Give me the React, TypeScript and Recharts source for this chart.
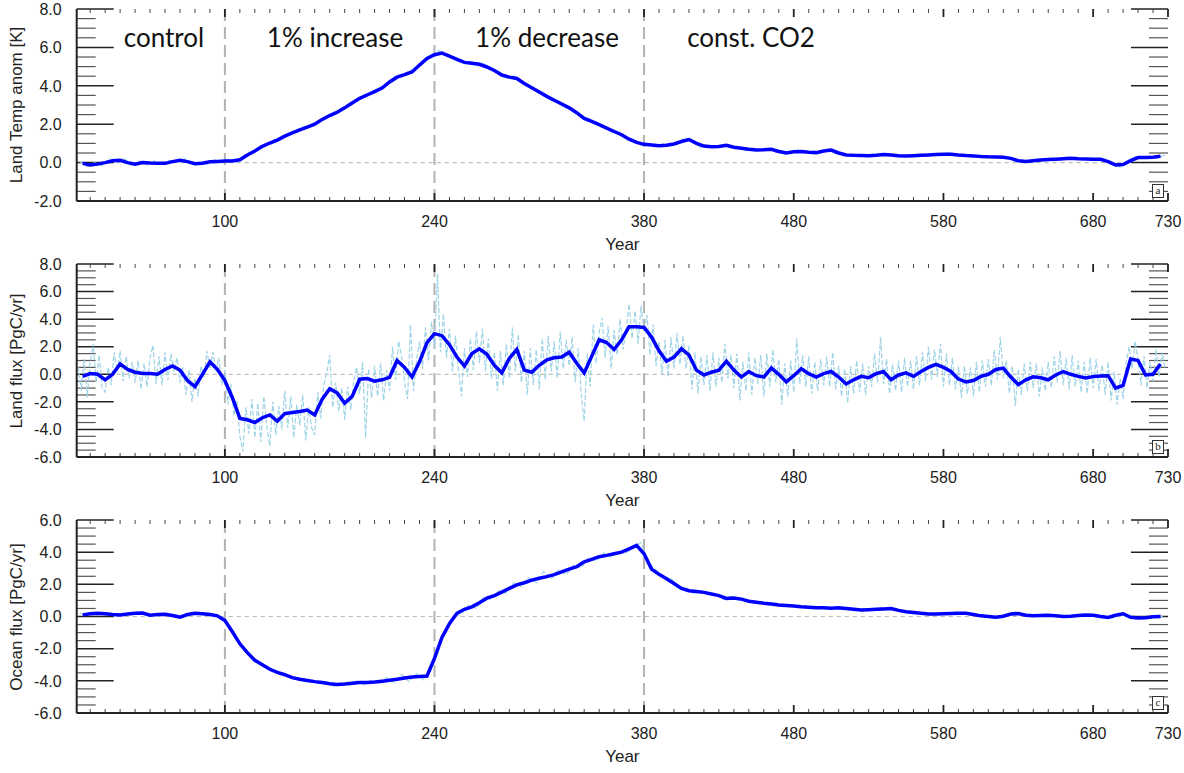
import { LineChart, Line, XAxis, YAxis, ReferenceLine } from 'recharts';

// years on the x axis
const YEAR_DOMAIN: [number, number] = [1, 730];
const MAJOR_YEARS = [100, 240, 380, 480, 580, 680, 730];
const PHASE_YEARS = [100, 240, 380];
const PHASE_LABELS = ['control', '1% increase', '1% decrease', 'const. CO2'];

// smoothed series: years 5, 10, ... 725
const SMOOTH_START = 5;
const SMOOTH_STEP = 5;

const TEMP_SMOOTH = [
    -0.04, -0.12, -0.08, 0.0, 0.1, 0.12, 0.0, -0.09, 0.0, -0.02,
    -0.03, -0.04, 0.05, 0.12, 0.05, -0.06, -0.03, 0.04, 0.06, 0.08,
    0.08, 0.15, 0.4, 0.6, 0.85, 1.02, 1.17, 1.38, 1.55, 1.7,
    1.85, 2.0, 2.25, 2.45, 2.62, 2.85, 3.1, 3.35, 3.52, 3.7,
    3.88, 4.2, 4.45, 4.58, 4.72, 5.08, 5.42, 5.62, 5.7, 5.55,
    5.38, 5.22, 5.17, 5.12, 4.98, 4.8, 4.56, 4.45, 4.38, 4.12,
    3.9, 3.68, 3.45, 3.25, 3.05, 2.85, 2.6, 2.3, 2.15, 1.98,
    1.8, 1.62, 1.45, 1.22, 1.05, 0.95, 0.92, 0.88, 0.9, 0.97,
    1.1, 1.2, 1.0, 0.86, 0.82, 0.84, 0.9, 0.8, 0.75, 0.7,
    0.66, 0.67, 0.69, 0.58, 0.5, 0.56, 0.58, 0.54, 0.52, 0.6,
    0.65, 0.5, 0.4, 0.38, 0.37, 0.36, 0.38, 0.42, 0.4, 0.36,
    0.34, 0.36, 0.38, 0.4, 0.42, 0.44, 0.44, 0.4, 0.37, 0.35,
    0.32, 0.3, 0.29, 0.28, 0.22, 0.1, 0.06, 0.1, 0.14, 0.16,
    0.18, 0.2, 0.22, 0.2, 0.19, 0.18, 0.17, 0.05, -0.12, -0.1,
    0.1, 0.26, 0.27, 0.28, 0.33,
];

const LAND_SMOOTH = [
    -0.15, 0.05, 0.0, -0.4, 0.0, 0.75, 0.35, 0.15, 0.05, 0.05,
    0.0, 0.35, 0.6, 0.3, -0.45, -0.9, 0.0, 0.9, 0.35, -0.45,
    -1.7, -3.2, -3.3, -3.5, -3.15, -2.95, -3.4, -2.85, -2.78, -2.7,
    -2.6, -2.95, -1.8, -1.05, -1.35, -2.1, -1.6, -0.36, -0.3, -0.5,
    -0.4, -0.22, 1.0, 0.5, -0.2, 0.9, 2.3, 2.95, 2.8, 2.15,
    1.25, 0.6, 1.5, 1.85, 1.45, 0.65, 0.1, 1.15, 1.8, 0.3,
    0.15, 0.65, 1.05, 1.2, 1.25, 1.6, 0.8, 0.1, 1.3, 2.5,
    2.3, 1.8, 2.5, 3.45, 3.45, 3.4, 2.7, 1.7, 0.95, 1.25,
    1.85, 1.4, 0.3, -0.05, 0.15, 0.3, 0.95, 0.3, -0.2, 0.2,
    -0.1, -0.2, 0.45, 0.0, -0.55, -0.1, 0.4, 0.05, -0.2, 0.05,
    0.2, -0.2, -0.7, -0.4, -0.15, -0.25, 0.05, 0.2, -0.4, -0.05,
    0.1, -0.15, 0.2, 0.5, 0.72, 0.5, 0.2, -0.35, -0.55, -0.45,
    -0.15, 0.0, 0.35, 0.45, -0.2, -0.75, -0.4, -0.18, -0.25, -0.4,
    -0.05, 0.2, 0.0, -0.15, -0.27, -0.17, -0.12, -0.1, -1.0, -0.8,
    1.1, 1.0, -0.05, 0.0, 0.75,
];

const OCEAN_SMOOTH = [
    0.1, 0.17, 0.2, 0.17, 0.12, 0.1, 0.15, 0.2, 0.22, 0.08,
    0.12, 0.14, 0.06, -0.04, 0.12, 0.2, 0.17, 0.12, 0.04, -0.25,
    -0.95, -1.7, -2.25, -2.72, -3.0, -3.28, -3.48, -3.62, -3.8, -3.9,
    -3.98, -4.05, -4.1, -4.18, -4.23, -4.2, -4.15, -4.1, -4.1, -4.07,
    -4.02, -3.96, -3.9, -3.82, -3.76, -3.73, -3.7, -2.6, -1.3, -0.45,
    0.2, 0.45, 0.6, 0.85, 1.14, 1.3, 1.52, 1.75, 1.97, 2.1,
    2.26, 2.38, 2.48, 2.6, 2.78, 2.95, 3.1, 3.4, 3.55, 3.72,
    3.8, 3.9, 4.0, 4.2, 4.42, 3.9, 2.95, 2.62, 2.35, 2.05,
    1.75, 1.6, 1.55, 1.5, 1.4, 1.3, 1.12, 1.15, 1.08, 0.95,
    0.88, 0.82, 0.78, 0.72, 0.68, 0.65, 0.6, 0.58, 0.55, 0.55,
    0.52, 0.55, 0.5, 0.45, 0.4, 0.42, 0.45, 0.47, 0.5, 0.38,
    0.3, 0.25, 0.2, 0.16, 0.15, 0.17, 0.18, 0.2, 0.2, 0.12,
    0.04, 0.0, -0.04, 0.02, 0.15, 0.18, 0.08, 0.04, 0.06, 0.08,
    0.04, 0.0, 0.02, 0.06, 0.1, 0.08, 0.0, -0.06, 0.08, 0.17,
    -0.05, -0.1, -0.08, -0.02, 0.0,
];

// annual (raw) series, sampled: temp & ocean at years 3, 8, ... 728
const RAW5_START = 3;
const RAW5_STEP = 5;

const TEMP_RAW = [
    0.05, -0.2, 0.0, -0.15, 0.18, 0.02, 0.2, -0.2, 0.08, -0.12,
    0.1, -0.15, 0.12, 0.02, 0.2, -0.12, 0.05, -0.08, 0.15, 0.0,
    0.2, 0.05, 0.38, 0.45, 0.85, 0.9, 1.2, 1.22, 1.55, 1.6,
    1.88, 1.9, 2.25, 2.3, 2.65, 2.7, 3.1, 3.2, 3.55, 3.6,
    3.92, 4.05, 4.45, 4.5, 4.78, 4.85, 5.35, 5.5, 5.85, 5.58,
    5.5, 5.22, 5.28, 5.05, 5.15, 4.78, 4.75, 4.4, 4.52, 4.15,
    4.05, 3.7, 3.6, 3.25, 3.2, 2.85, 2.75, 2.35, 2.3, 1.98,
    1.95, 1.6, 1.58, 1.25, 1.2, 0.9, 1.0, 0.85, 0.98, 0.88,
    1.1, 1.3, 1.05, 0.78, 0.9, 0.75, 0.95, 0.78, 0.82, 0.62,
    0.75, 0.6, 0.78, 0.55, 0.6, 0.45, 0.68, 0.5, 0.6, 0.5,
    0.72, 0.45, 0.48, 0.3, 0.45, 0.3, 0.45, 0.35, 0.48, 0.3,
    0.42, 0.3, 0.45, 0.35, 0.48, 0.38, 0.52, 0.35, 0.42, 0.3,
    0.38, 0.25, 0.35, 0.22, 0.3, 0.05, 0.12, 0.0, 0.2, 0.1,
    0.25, 0.12, 0.28, 0.15, 0.25, 0.1, 0.22, 0.08, -0.05, -0.25,
    0.05, 0.3, 0.22, 0.35, 0.25, 0.38,
];

const OCEAN_RAW = [
    0.2, 0.1, 0.25, 0.12, 0.2, 0.05, 0.2, 0.12, 0.32, 0.1,
    0.05, 0.2, 0.0, 0.1, 0.05, 0.25, 0.12, 0.25, 0.05, 0.0,
    -0.7, -1.35, -2.1, -2.55, -2.95, -3.1, -3.45, -3.5, -3.8, -3.78,
    -4.0, -3.95, -4.15, -4.05, -4.35, -4.1, -4.3, -4.0, -4.25, -3.95,
    -4.2, -3.8, -4.1, -3.6, -4.05, -3.55, -3.95, -3.3, -1.7, -0.7,
    0.0, 0.15, 0.7, 0.5, 1.2, 1.05, 1.6, 1.45, 2.1, 1.85,
    2.4, 2.1, 2.8, 2.35, 2.9, 2.6, 3.2, 3.0, 3.65, 3.45,
    3.95, 3.7, 4.05, 3.95, 4.3, 4.6, 3.3, 2.9, 2.35, 2.4,
    1.7, 1.8, 1.45, 1.6, 1.35, 1.45, 1.05, 1.25, 1.0, 1.05,
    0.8, 0.95, 0.72, 0.85, 0.6, 0.75, 0.55, 0.65, 0.5, 0.62,
    0.45, 0.62, 0.42, 0.55, 0.35, 0.5, 0.38, 0.55, 0.42, 0.5,
    0.25, 0.35, 0.12, 0.25, 0.1, 0.22, 0.12, 0.28, 0.12, 0.25,
    0.0, 0.1, -0.1, 0.05, 0.1, 0.28, 0.0, 0.12, 0.0, 0.15,
    0.0, 0.08, -0.05, 0.12, 0.05, 0.15, -0.05, 0.0, -0.1, 0.22,
    0.1, -0.15, -0.02, -0.12, 0.05, -0.05,
];

// land flux raw at years 2, 4, ... 728
const RAW2_START = 2;
const RAW2_STEP = 2;

const LAND_RAW = [
    0.6, -1.2, 1.1, -1.7, 0.9, 2.2, -0.6, 1.4, -1.0, -1.3,
    0.5, -0.8, 1.6, 0.2, 1.7, -0.5, 1.3, -0.3, 0.9, -0.6,
    1.0, -1.1, 0.8, -0.9, 1.2, 2.1, -0.7, 1.3, -0.8, 1.6,
    -0.4, 1.5, 0.2, 1.2, -0.6, 0.5, -1.5, 0.3, -2.0, -0.3,
    -1.6, 0.6, -0.2, 1.7, 0.4, 1.6, 0.2, 1.2, -0.8, 0.3,
    -2.2, -0.7, -3.0, -1.9, -4.5, -5.6, -2.4, -4.3, -1.8, -4.6,
    -2.1, -4.9, -1.6, -3.8, -5.2, -2.0, -4.4, -2.3, -4.0, -1.2,
    -3.9, -1.6, -4.6, -2.2, -3.7, -1.5, -4.8, -2.4, -3.9, -4.4,
    -1.3, -3.2, -0.8, 0.1, 1.4, -2.4, -0.6, -2.7, -1.0, -3.3,
    -0.9, -2.6, -0.6, 0.5, -1.4, 0.9, -4.6, 0.4, -1.7, 0.6,
    -1.6, 0.8, -1.9, 0.3, -1.2, 2.0, -0.4, 2.4, 1.3, -0.5,
    -1.8, 3.6, -1.2, 1.0, 2.4, 0.4, 3.4, 1.0, 3.8, 1.9,
    7.3, 1.6, 4.4, 1.2, 3.3, 0.2, 2.8, 0.4, -1.6, 1.9,
    -0.2, 2.6, 0.3, 3.1, 0.8, 3.3, 0.2, 2.6, -0.3, 1.6,
    -1.2, 1.7, -0.8, 2.2, -0.3, 3.4, 0.2, 2.9, -0.6, 1.7,
    -1.5, 1.9, -0.8, 1.8, -1.1, 2.6, -0.4, 2.8, 0.2, 2.4,
    -0.3, 3.1, 0.4, 2.5, 0.6, 2.7, -0.6, 1.9, -1.4, -3.4,
    1.5, -0.9, 3.6, 0.8, 3.0, 4.1, 1.2, 3.5, 0.4, 3.2,
    1.4, 4.0, 1.8, 3.2, 5.1, 2.6, 4.6, 2.2, 5.0, 3.1,
    4.3, 1.4, 3.6, 0.6, 2.4, 0.0, 2.5, -0.2, 2.7, 0.4,
    3.0, 0.7, 2.8, 0.4, 2.1, -1.1, 1.6, -1.4, 1.3, -0.8,
    1.4, -1.2, 1.6, -0.9, 1.2, -0.6, 2.2, -0.3, 1.4, -1.0,
    1.5, -1.9, 0.9, -1.2, 1.6, -1.5, 1.2, -0.7, 1.4, -1.6,
    1.5, -0.9, 1.8, -0.6, 1.1, -2.2, 0.8, -1.6, 1.0, -1.3,
    2.6, -0.7, 1.4, -0.9, 1.3, -1.4, 0.9, -1.2, 1.1, -0.8,
    1.3, -0.9, 1.6, -1.1, 0.6, -1.6, 0.4, -2.1, 0.6, -1.4,
    1.0, -1.3, 0.8, -1.5, 0.6, -0.9, 1.5, -0.6, 2.7, -0.7,
    1.1, -1.4, 0.7, -1.2, 1.0, -1.3, 1.2, -0.9, 1.0, -1.1,
    1.3, -0.8, 1.6, -0.5, 2.0, -0.4, 1.8, -0.2, 2.2, -0.9,
    1.5, -0.8, 1.2, -1.1, 0.6, -1.7, 0.6, -1.4, 0.5, -1.6,
    0.9, -1.3, 1.0, -0.9, 1.1, -0.8, 1.8, -0.4, 2.7, -0.3,
    1.0, -1.4, 0.6, -2.3, 0.4, -1.5, 0.8, -1.2, 0.9, -1.0,
    0.8, -1.6, 0.5, -1.2, 0.9, -1.0, 1.3, -0.6, 1.7, -0.8,
    1.2, -1.1, 1.4, -0.9, 1.0, -1.3, 0.9, -1.4, 1.2, -1.0,
    1.1, -1.2, 0.7, -1.5, 0.9, -1.9, 0.2, -2.2, -0.3, -1.8,
    0.8, 2.0, 0.4, 2.4, 1.0, -0.8, 1.3, -1.0, 0.9, -0.5,
    1.8, -0.2, 1.6, 0.4,
];

const AXIS_FONT = '"Liberation Sans", Arial, sans-serif';
const W = 1184;
const Y_AXIS_W = 76.7;
const RIGHT_GAP = 16;
const X_AXIS_H = 59;
const PLOT_W = W - RIGHT_GAP - Y_AXIS_W;

const range = (a: number, b: number, s: number) => {
    const out: number[] = [];
    for (let v = a; v <= b + 1e-9; v += s) out.push(Math.round(v * 100) / 100);
    return out;
};

const MINOR_YEARS = range(10, 720, 10).filter((v) => !MAJOR_YEARS.includes(v));

const toSeries = (values: number[], start: number, step: number) =>
    values.map((v, i) => ({ year: start + i * step, v }));

const isMajorY = (v: number) => Math.abs(v % 2) < 1e-6;

function YearLabel(props: any) {
    return (
        <text x={Number(props.x)} y={Number(props.y) + 26} textAnchor="middle" fontSize={16}
            fontFamily={AXIS_FONT} fill="#222">
            {props.payload.value}
        </text>
    );
}

function ValueLabel(props: any) {
    return (
        <text x={Number(props.x) - 15} y={Number(props.y) + 5.7} textAnchor="end" fontSize={16}
            fontFamily={AXIS_FONT} fill="#222">
            {Number(props.payload.value).toFixed(1)}
        </text>
    );
}

interface PanelProps {
    top: number;
    plotTop: number;
    plotBottom: number;
    domain: [number, number];
    raw: { year: number; v: number }[];
    smooth: { year: number; v: number }[];
    yLabel: string;
    letter: string;
}

function Panel({ top, plotTop, plotBottom, domain, raw, smooth, yLabel, letter }: PanelProps) {
    const height = plotBottom - top + X_AXIS_H;
    const allY = range(domain[0], domain[1], 0.5);
    const majorY = allY.filter(isMajorY);
    const minorY = allY.filter((v) => !isMajorY(v));
    const frame = { stroke: '#222', strokeWidth: 2 };

    // tick lengths converted to axis units so the marks go through the chart's scales
    const yearsPerPx = (YEAR_DOMAIN[1] - YEAR_DOMAIN[0]) / PLOT_W;
    const unitsPerPx = (domain[1] - domain[0]) / (plotBottom - plotTop);
    const [x0, x1] = YEAR_DOMAIN;
    const [y0, y1] = domain;

    const yTickMarks = allY.flatMap((v) => {
        const len = (isMajorY(v) ? 37 : 19) * yearsPerPx;
        const color = isMajorY(v) ? '#222' : '#555';
        const w = isMajorY(v) ? 1.5 : 1.2;
        return [
            <ReferenceLine key={`l${v}`} segment={[{ x: x0, y: v }, { x: x0 + len, y: v }]} stroke={color} strokeWidth={w} ifOverflow="visible" />,
            <ReferenceLine key={`r${v}`} segment={[{ x: x1 - len, y: v }, { x: x1, y: v }]} stroke={color} strokeWidth={w} ifOverflow="visible" />,
        ];
    });
    const xTickMarks = [...MAJOR_YEARS, ...MINOR_YEARS].flatMap((yr) => {
        const major = MAJOR_YEARS.includes(yr);
        const len = (major ? 8 : 4) * unitsPerPx;
        const color = major ? '#222' : '#444';
        const w = major ? 1.8 : 1;
        return [
            <ReferenceLine key={`b${yr}`} segment={[{ x: yr, y: y0 }, { x: yr, y: y0 + len }]} stroke={color} strokeWidth={w} ifOverflow="visible" />,
            <ReferenceLine key={`t${yr}`} segment={[{ x: yr, y: y1 - len }, { x: yr, y: y1 }]} stroke={color} strokeWidth={w} ifOverflow="visible" />,
        ];
    });

    return (
        <>
            <div style={{ position: 'absolute', left: 0, top, width: W, height }}>
                <LineChart width={W} height={height} margin={{ top: plotTop - top, right: RIGHT_GAP, bottom: 0, left: 0 }}>
                    <XAxis type="number" dataKey="year" domain={YEAR_DOMAIN} ticks={MAJOR_YEARS} interval={0}
                        allowDataOverflow height={X_AXIS_H} tickLine={false} tickSize={0} tickMargin={0}
                        axisLine={frame} tick={(p: any) => <YearLabel {...p} />} />
                    <XAxis xAxisId="top" orientation="top" type="number" domain={YEAR_DOMAIN} ticks={[]}
                        allowDataOverflow height={0} tickLine={false} tick={false} axisLine={frame} />
                    <YAxis type="number" domain={domain} ticks={majorY} interval={0} allowDataOverflow
                        width={Y_AXIS_W} tickLine={false} tickSize={0} tickMargin={0} axisLine={frame}
                        tick={(p: any) => <ValueLabel {...p} />} />
                    <YAxis yAxisId="right" orientation="right" type="number" domain={domain} ticks={[]}
                        allowDataOverflow width={0} tickLine={false} tick={false} axisLine={frame} />
                    <ReferenceLine y={0} stroke="#bdbdbd" strokeWidth={1.2} strokeDasharray="4 4" />
                    {PHASE_YEARS.map((yr) => (
                        <ReferenceLine key={yr} x={yr} stroke="#b3b3b3" strokeWidth={2} strokeDasharray="12 6" />
                    ))}
                    {yTickMarks}
                    {xTickMarks}
                    <Line data={raw} dataKey="v" type="linear" stroke="#9fd3e6" strokeWidth={1.2}
                        strokeDasharray="5 2" dot={false} isAnimationActive={false} />
                    <Line data={smooth} dataKey="v" type="linear" stroke="#0000ff" strokeWidth={3.5}
                        dot={false} isAnimationActive={false} />
                </LineChart>
            </div>
            <div style={{
                position: 'absolute', left: 16.5, top: (plotTop + plotBottom) / 2,
                transform: 'translate(-50%, -50%) rotate(-90deg)', whiteSpace: 'nowrap',
                fontSize: 17, fontFamily: AXIS_FONT, color: '#222',
            }}>{yLabel}</div>
            <div style={{
                position: 'absolute', left: Y_AXIS_W + PLOT_W / 2, top: plotBottom + 44,
                transform: 'translate(-50%, -50%)', fontSize: 17, fontFamily: AXIS_FONT, color: '#222',
            }}>Year</div>
            <div style={{
                position: 'absolute', left: 1152, top: plotBottom - 17, width: 10, height: 12,
                border: '1px solid #333', background: '#fff', fontSize: 11, lineHeight: '11px',
                fontFamily: '"Liberation Serif", serif', textAlign: 'center', color: '#222',
            }}>{letter}</div>
        </>
    );
}

const LABEL_CENTERS = [164, 335, 547, 751];

export default function App() {
    return (
        <div style={{ position: 'absolute', left: 0, top: 0, width: W, height: 773, background: '#fff' }}>
            <Panel top={0} plotTop={9} plotBottom={201} domain={[-2, 8]}
                raw={toSeries(TEMP_RAW, RAW5_START, RAW5_STEP)}
                smooth={toSeries(TEMP_SMOOTH, SMOOTH_START, SMOOTH_STEP)}
                yLabel="Land Temp anom [K]" letter="a" />
            <Panel top={255} plotTop={264} plotBottom={457} domain={[-6, 8]}
                raw={toSeries(LAND_RAW, RAW2_START, RAW2_STEP)}
                smooth={toSeries(LAND_SMOOTH, SMOOTH_START, SMOOTH_STEP)}
                yLabel="Land flux [PgC/yr]" letter="b" />
            <Panel top={511} plotTop={520} plotBottom={713} domain={[-6, 6]}
                raw={toSeries(OCEAN_RAW, RAW5_START, RAW5_STEP)}
                smooth={toSeries(OCEAN_SMOOTH, SMOOTH_START, SMOOTH_STEP)}
                yLabel="Ocean flux [PgC/yr]" letter="c" />
            {PHASE_LABELS.map((t, i) => (
                <div key={t} style={{
                    position: 'absolute', left: LABEL_CENTERS[i], top: 37, transform: 'translate(-50%, -50%)',
                    whiteSpace: 'nowrap', fontSize: 26, fontFamily: 'Lato, "Open Sans", sans-serif', color: '#111',
                }}>{t}</div>
            ))}
        </div>
    );
}
